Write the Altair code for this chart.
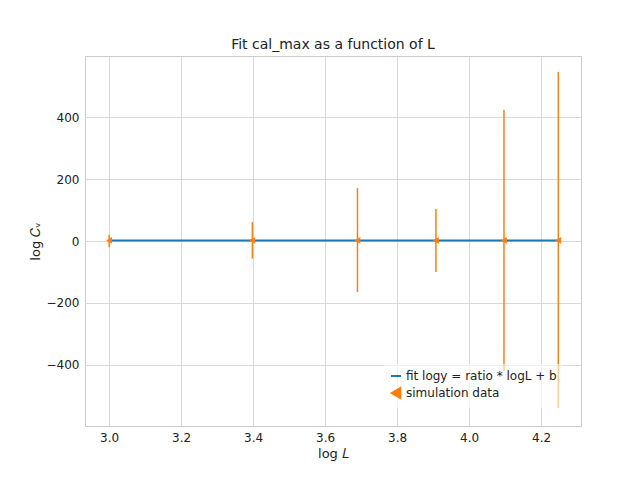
import altair as alt
import pandas as pd

# simulation data
log_L = [3.0, 3.398, 3.69, 3.908, 4.097, 4.248]
log_cv = [2.0, 2.0, 2.0, 2.0, 2.0, 2.0]
err_hi = [20, 61, 171, 103, 423, 545]
err_lo = [-20, -57, -165, -100, -419, -539]

fit_x = [3.0, 4.248]
fit_y = [2.0, 2.0]

fit_lbl = "fit logy = ratio * logL + b"
sim_lbl = "simulation data"

pts = pd.DataFrame({"x": log_L, "y": log_cv, "hi": err_hi, "lo": err_lo, "series": sim_lbl})
fit = pd.DataFrame({"x": fit_x, "y": fit_y, "series": fit_lbl})

xs = alt.Scale(domain=[2.933, 4.311], nice=False, zero=False)
ys = alt.Scale(domain=[-597, 597], nice=False)
x_ax = alt.Axis(values=[3.0, 3.2, 3.4, 3.6, 3.8, 4.0, 4.2], format=".1f", title="log 𝐿")
y_ax = alt.Axis(values=[-400, -200, 0, 200, 400], format="d", title="log 𝐶ᵥ")

color = alt.Color("series:N", scale=alt.Scale(domain=[fit_lbl, sim_lbl], range=["#1f77b4", "#ff7f0e"]),
                  legend=alt.Legend(title=None, orient="bottom-right", labelFontSize=12, labelFont="DejaVu Sans",
                                    symbolStrokeWidth=2, fillColor="rgba(255,255,255,0.6)", padding=6,
                                    labelColor="#222"))
shape = alt.Shape("series:N", scale=alt.Scale(domain=[fit_lbl, sim_lbl], range=["stroke", "triangle-left"]))

bars = alt.Chart(pts).mark_rule(color="#ff7f0e", strokeWidth=1.5).encode(
    x=alt.X("x:Q", scale=xs, axis=x_ax), y=alt.Y("lo:Q", scale=ys, axis=y_ax), y2="hi:Q")
line = alt.Chart(fit).mark_line(strokeWidth=2).encode(
    x=alt.X("x:Q", scale=xs), y=alt.Y("y:Q", scale=ys), color=color, shape=shape)
marks = alt.Chart(pts).mark_point(filled=True, size=45, opacity=1).encode(
    x=alt.X("x:Q", scale=xs), y=alt.Y("y:Q", scale=ys), color=color, shape=shape)

chart = alt.layer(bars, line, marks).properties(
    width=496, height=370,
    padding={"left": 21, "top": 30, "right": 5, "bottom": 5},
    title=alt.TitleParams("Fit cal_max as a function of L", fontSize=14, fontWeight="normal",
                          font="DejaVu Sans", color="#222"),
).configure_view(stroke="#cccccc").configure_axis(
    gridColor="#d9d9d9", domain=False, tickSize=0, labelFontSize=12, titleFontSize=13,
    titleFontWeight="normal", labelColor="#222", titleColor="#222", labelPadding=6,
    labelFont="DejaVu Sans", titleFont="DejaVu Sans"
)

chart.save("out.html", embed_options={"renderer": "svg", "actions": False})
